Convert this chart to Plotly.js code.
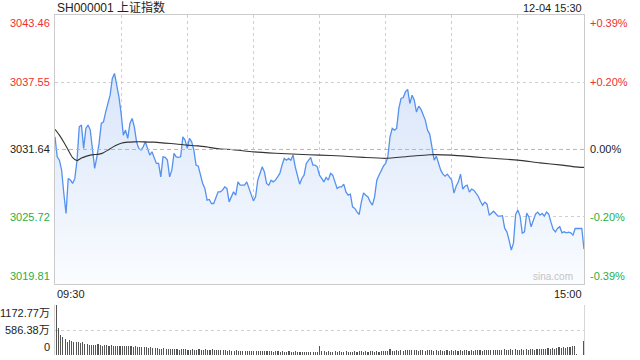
<!DOCTYPE html>
<html><head><meta charset="utf-8">
<script src="https://cdn.plot.ly/plotly-3.0.1.min.js"></script>
<style>html,body{margin:0;padding:0;background:#fff}#c{width:640px;height:360px}</style>
</head><body><div id="c"></div>
<script>
const title = 'SH000001 上证指数';
const stamp = '12-04 15:30';
const prevClose = 3031.64;
const priceMin = 3019.81, priceMax = 3043.46;
const volMax = 1172.77;
const leftLabels = ['3043.46','3037.55','3031.64','3025.72','3019.81'];
const rightLabels = ['+0.39%','+0.20%','0.00%','-0.20%','-0.39%'];
const volLabels = ['1172.77万','586.38万','0'];
const xLabels = ['09:30','15:00'];
const gridMinutes = [0,30,60,90,120,150,180,210,240];

const price = [
3032.75,3030.99,3030.70,3029.82,3027.77,3026.01,3029.09,3028.95,3028.65,3029.09,
3030.70,3033.63,3033.78,3031.73,3033.49,3033.78,3033.34,3031.58,3029.97,3030.99,
3032.17,3033.93,3034.07,3034.95,3035.68,3036.41,3037.88,3038.32,3037.29,3036.27,
3034.81,3032.90,3033.34,3032.61,3033.93,3034.37,3033.63,3032.31,3031.73,3031.58,
3031.87,3032.31,3031.73,3031.14,3031.43,3030.99,3030.41,3030.41,3029.23,3030.99,
3030.94,3030.70,3029.23,3029.82,3031.29,3030.99,3030.94,3030.99,3032.75,3032.46,
3031.73,3032.61,3032.31,3031.58,3030.26,3030.17,3029.38,3028.65,3028.21,3027.18,
3027.24,3026.89,3026.89,3027.33,3027.91,3027.91,3028.06,3028.35,3028.21,3027.03,
3027.47,3027.91,3027.62,3028.79,3028.50,3028.50,3028.50,3028.79,3028.21,3027.77,
3027.12,3027.47,3028.94,3029.53,3030.11,3029.67,3028.65,3028.50,3028.94,3028.79,
3028.94,3029.23,3029.53,3030.26,3030.85,3030.70,3030.85,3030.70,3031.14,3030.11,
3029.23,3028.59,3029.09,3029.38,3030.41,3030.70,3030.94,3030.26,3030.26,3030.11,
3029.38,3029.09,3028.79,3029.18,3028.94,3029.53,3029.38,3028.79,3028.21,3028.35,
3028.35,3028.59,3027.91,3027.62,3027.71,3026.59,3026.45,3026.15,3025.92,3027.03,
3027.82,3027.62,3027.47,3027.03,3026.74,3027.47,3028.94,3029.38,3029.82,3030.17,
3030.41,3030.99,3032.75,3033.49,3033.34,3033.49,3035.25,3036.12,3036.21,3036.70,
3036.92,3035.68,3036.41,3035.97,3034.92,3035.45,3035.18,3034.66,3034.22,3033.34,
3032.99,3031.87,3030.70,3031.05,3030.44,3029.82,3029.47,3029.29,3029.47,3029.20,
3028.94,3027.80,3028.41,3028.79,3029.47,3028.15,3028.41,3028.50,3027.89,3028.15,
3028.06,3027.80,3027.53,3027.09,3026.74,3027.01,3026.83,3025.86,3026.01,3026.21,
3025.99,3025.78,3025.78,3025.82,3024.72,3024.40,3023.67,3022.80,3023.40,3025.95,
3026.30,3025.78,3024.28,3024.40,3026.04,3025.71,3024.83,3025.34,3025.95,3026.13,
3025.86,3026.01,3025.78,3026.13,3025.95,3025.25,3024.63,3024.40,3024.69,3024.85,
3024.31,3024.40,3024.31,3024.37,3024.31,3024.11,3024.69,3024.69,3024.69,3024.69,
3022.87];

const avgMinute = [0,2,4,6,8,10,12,14,16,18,20,22,24,26,28,30,33,36,40,45,50,55,60,65,70,75,80,90,100,110,120,130,140,150,160,170,180,190,200,210,220,230,236,240];
const avgPrice = [3033.40,3032.90,3032.28,3031.58,3030.92,3030.66,3030.88,3031.03,3031.14,3031.19,3031.23,3031.36,3031.58,3031.82,3032.04,3032.19,3032.28,3032.31,3032.31,3032.28,3032.20,3032.12,3032.02,3031.95,3031.82,3031.68,3031.64,3031.43,3031.31,3031.22,3031.14,3031.06,3030.94,3030.86,3031.02,3031.18,3031.14,3030.99,3030.84,3030.70,3030.46,3030.26,3030.11,3030.06];

const volume = [
1172.77,641,470,412,365,300,345,318,305,315,
300,292,310,252,248,240,246,238,232,250,
236,222,226,228,218,232,214,212,220,214,
208,214,204,210,200,196,204,198,186,190,
184,176,170,180,166,160,170,150,142,154,
140,146,138,150,132,140,128,134,146,136,
120,126,132,118,124,130,116,128,134,122,
126,130,120,116,124,110,118,112,104,110,
96,102,110,92,98,104,96,90,100,94,
88,96,86,92,98,84,90,86,94,80,
84,90,78,86,82,76,88,80,74,84,
78,72,82,76,70,80,74,68,72,66,
215,
96,84,78,90,80,74,86,78,84,72,
80,88,76,82,74,90,78,84,96,80,
86,78,92,84,76,88,80,90,84,98,
92,140,104,96,110,92,118,100,126,112,
120,108,116,122,104,118,110,96,124,106,
112,100,108,96,114,102,96,108,100,112,
98,116,104,110,100,118,106,96,112,104,
118,108,114,102,120,110,116,124,106,118,
126,112,120,134,116,128,140,122,134,126,
118,130,124,136,128,142,132,120,138,146,
130,150,142,156,148,160,152,170,178,164,
182,174,196,188,204,212,
12,8,10,
336];

const minutes = price.map((_, i) => i);
const FONT = 'Liberation Sans, Arial, Noto Sans CJK SC, sans-serif';
const RED = '#ee3030', GREEN = '#2aae43', DARK = '#222';
const labelColors = [RED, RED, DARK, GREEN, GREEN];
const leftAnchors = ['top','middle','middle','middle','bottom'];

const traces = [
  {x: minutes, y: price, type: 'scatter', mode: 'lines',
   line: {color: '#5591ee', width: 1.3}, fill: 'tozeroy',
   fillgradient: {type: 'vertical', start: priceMin, stop: 3038.5,
     colorscale: [[0, 'rgb(250,252,255)'], [1, 'rgb(216,229,250)']]},
   xaxis: 'x', yaxis: 'y', hoverinfo: 'skip'},
  {x: avgMinute, y: avgPrice, type: 'scatter', mode: 'lines', line: {color: '#333', width: 1.1, shape: 'spline', smoothing: 0.6},
   xaxis: 'x', yaxis: 'y', hoverinfo: 'skip'},
  {x: minutes, y: volume, type: 'bar', width: 0.5, marker: {color: '#555', line: {width: 0}},
   xaxis: 'x2', yaxis: 'y2', hoverinfo: 'skip'}
];

const ann = [];
ann.push({xref: 'paper', yref: 'paper', x: 0, y: 1, xanchor: 'left', yanchor: 'middle', yshift: 7.5,
  text: title, showarrow: false, font: {family: FONT, size: 12, color: '#222'}});
ann.push({xref: 'paper', yref: 'paper', x: 1, y: 1, xanchor: 'right', yanchor: 'middle', yshift: 7.5,
  text: stamp, showarrow: false, font: {family: FONT, size: 11, color: '#222'}});
leftLabels.forEach((t, i) => {
  const v = parseFloat(t);
  ann.push({xref: 'paper', yref: 'y', x: 0, y: v, xanchor: 'right', yanchor: leftAnchors[i], xshift: -3,
    text: t, showarrow: false, font: {family: FONT, size: 11, color: labelColors[i]}});
  ann.push({xref: 'paper', yref: 'y', x: 1, y: v, xanchor: 'left', yanchor: leftAnchors[i], xshift: 4,
    text: rightLabels[i], showarrow: false, font: {family: FONT, size: 11, color: labelColors[i]}});
});
ann.push({xref: 'x', yref: 'paper', x: 0, y: 0.2088, xanchor: 'left', yanchor: 'top', yshift: -2,
  text: xLabels[0], showarrow: false, font: {family: FONT, size: 11, color: '#222'}});
ann.push({xref: 'x', yref: 'paper', x: 240, y: 0.2088, xanchor: 'right', yanchor: 'top', yshift: -2,
  text: xLabels[1], showarrow: false, font: {family: FONT, size: 11, color: '#222'}});
ann.push({xref: 'x', yref: 'y', x: 236, y: priceMin, xanchor: 'right', yanchor: 'bottom', yshift: 0,
  text: 'sina.com', showarrow: false, font: {family: FONT, size: 10, color: '#c4c4c4'}});
const volAnchors = ['top','middle','bottom'];
const volVals = [volMax, 586.38, 0];
volLabels.forEach((t, i) => {
  ann.push({xref: 'paper', yref: 'y2', x: 0, y: volVals[i], xanchor: 'right', yanchor: volAnchors[i], xshift: -3,
    text: t, showarrow: false, font: {family: FONT, size: 11, color: '#222'}});
});

const layout = {
  width: 640, height: 360,
  margin: {l: 55, r: 56, t: 15, b: 5, pad: 0},
  paper_bgcolor: '#fff', plot_bgcolor: 'rgba(0,0,0,0)',
  showlegend: false, bargap: 0,
  xaxis: {domain: [0, 1], range: [0, 240], anchor: 'y', tickvals: gridMinutes, showticklabels: false, ticks: '',
    showgrid: true, gridcolor: '#cfcfcf', griddash: 'dot', gridwidth: 1,
    showline: true, mirror: true, linecolor: '#cbcbcb', linewidth: 1, zeroline: false, fixedrange: true},
  yaxis: {domain: [0.2088, 1], range: [priceMin, priceMax], tickvals: [3037.55, 3025.72], showticklabels: false, ticks: '',
    showgrid: true, gridcolor: '#cfcfcf', griddash: 'dot', gridwidth: 1,
    showline: true, mirror: true, linecolor: '#cbcbcb', linewidth: 1, zeroline: false, fixedrange: true},
  xaxis2: {domain: [0, 1], range: [-0.6, 240.4], anchor: 'y2', showticklabels: false, ticks: '', showgrid: false,
    showline: false, zeroline: false, fixedrange: true},
  yaxis2: {domain: [0, 0.147], range: [0, volMax], anchor: 'x2', tickvals: [586.38, volMax], showticklabels: false, ticks: '',
    showgrid: true, gridcolor: '#cfcfcf', griddash: 'dot', gridwidth: 1,
    showline: true, mirror: true, linecolor: '#d6d6d6', linewidth: 1, zeroline: false, fixedrange: true},
  shapes: [{type: 'line', xref: 'x', yref: 'y', x0: 0, x1: 240, y0: prevClose, y1: prevClose,
    line: {color: '#f4a56e', width: 1, dash: '4px,3px'}, layer: 'above'}],
  annotations: ann
};

Plotly.newPlot('c', traces, layout, {displayModeBar: false, staticPlot: true});
</script></body></html>
